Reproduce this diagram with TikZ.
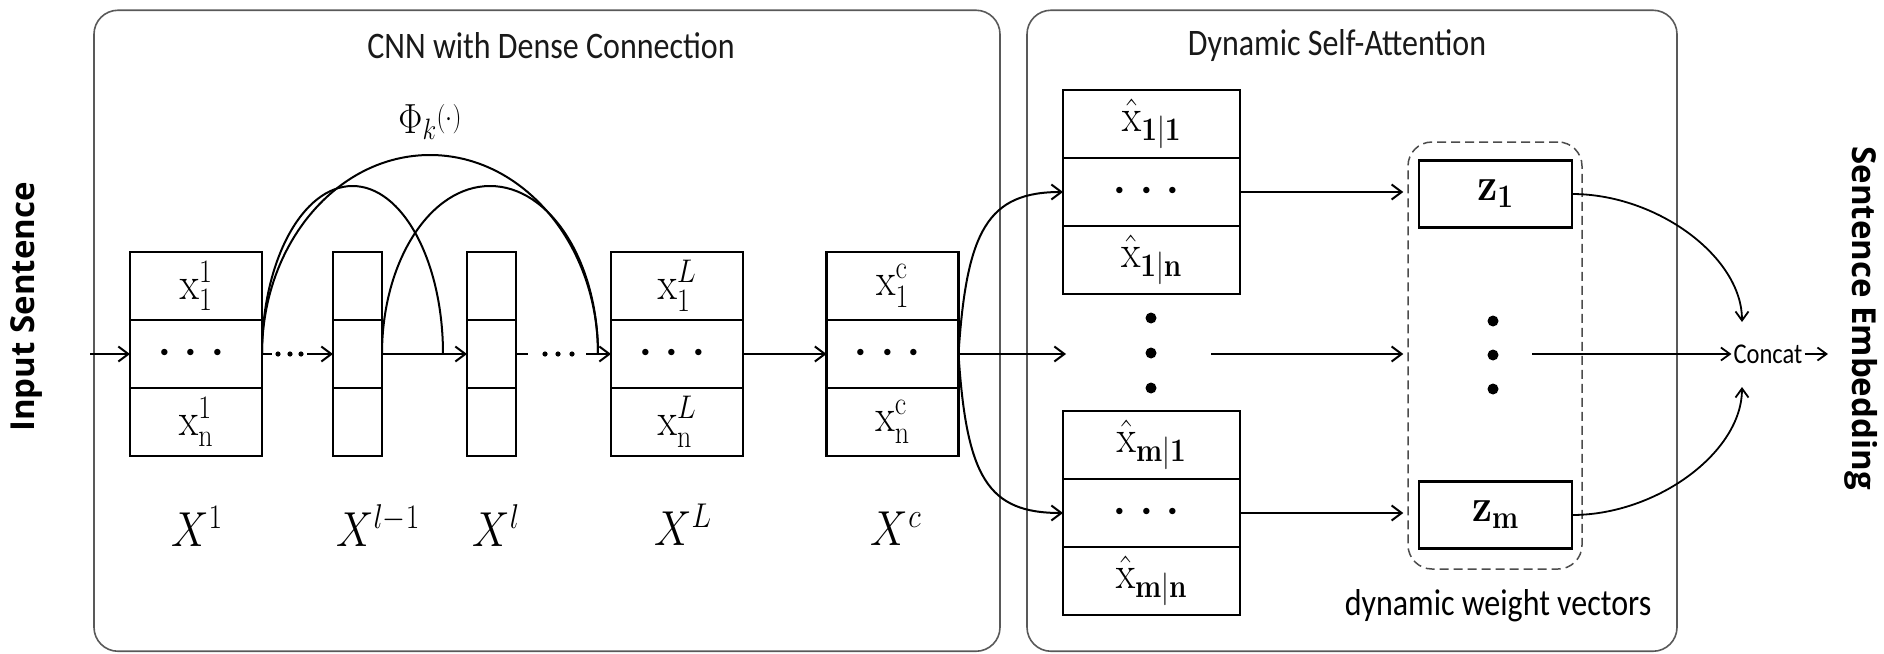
\RequirePackage{fix-cm}
\documentclass[tikz,border=0pt]{standalone}
\usepackage{amsmath}
\usepackage{graphicx}
\usepackage[no-math]{fontspec}
\setmainfont{Carlito}
\newfontfamily\headfont{Open Sans}
\usetikzlibrary{arrows.meta}

\newcommand\cellfont{\fontsize{40}{48}\selectfont}
\newcommand\labfont{\fontsize{42}{50}\selectfont}
\newcommand\vs[1]{\scalebox{1}[1.17]{#1}}
\newcommand\bigdots{{\fontsize{60}{20}\selectfont$\cdots$}}

\tikzset{
  cell/.style={draw, line width=2.4pt, minimum height=68pt, inner sep=0pt, outer sep=0pt, font=\cellfont, fill=white},
  widecell/.style={cell, minimum width=132pt},
  thincell/.style={cell, minimum width=49pt},
  hatcell/.style={cell, minimum width=177pt},
  zcell/.style={cell, minimum width=153pt, minimum height=67pt},
  arr/.style={line width=2pt, -{Straight Barb[length=10pt,width=15pt,line width=2pt]}},
  carr/.style={line width=1.8pt, -{Straight Barb[length=9pt,width=13pt,line width=1.8pt]}},
  arcl/.style={line width=2pt},
  panel/.style={draw=black!65, line width=1.6pt, rounded corners=24pt, inner sep=0pt},
  title/.style={font=\fontsize{32}{38}\selectfont, text=black!90},
  lab/.style={font=\labfont, anchor=base, inner sep=0pt},
  side/.style={font=\headfont\bfseries\fontsize{33}{40}\selectfont},
}

\begin{document}
\begin{tikzpicture}[x=1pt,y=-1pt]
\useasboundingbox (0,0) rectangle (1884,653);

% panels
\node[panel, minimum width=906pt, minimum height=641pt] (lpanel) at (547,330.75) {};
\node[panel, minimum width=650pt, minimum height=641pt] (rpanel) at (1352,330.75) {};
\node[title] (t1) at (551,46) {\vs{CNN with Dense Connection}};
\node[title] (t2) at (1337,46) {\vs{Dynamic Self-Attention}};

% side labels
\node[side, rotate=90] (insent) at (27,307) {Input Sentence};
\node[side, rotate=-90] (sentemb) at (1861,318) {Sentence Embedding};

% arcs (drawn first)
\draw[arcl] (196+66,354) coordinate (arcstart) arc[start angle=180,end angle=0,x radius=90.5pt,y radius=168pt];
\draw[arcl] (arcstart) arc[start angle=180,end angle=0,x radius=168pt,y radius=199pt];
\draw[arcl] (357.5+24.5,354) arc[start angle=180,end angle=0,x radius=108pt,y radius=168pt];

% X^1
\node[widecell] (x1a) at (196,286) {\vs{$\mathrm{x}_1^1$}};
\node[widecell] (x1b) at (196,354) {\bigdots};
\node[widecell] (x1c) at (196,422) {\vs{$\mathrm{x}_\mathrm{n}^1$}};
% X^{l-1}
\node[thincell] (xka) at (357.5,286) {};
\node[thincell] (xkb) at (357.5,354) {};
\node[thincell] (xkc) at (357.5,422) {};
% X^l
\node[thincell] (xla) at (491.5,286) {};
\node[thincell] (xlb) at (491.5,354) {};
\node[thincell] (xlc) at (491.5,422) {};
% X^L
\node[widecell] (xLa) at (677,286) {\vs{$\mathrm{x}_1^L$}};
\node[widecell] (xLb) at (677,354) {\bigdots};
\node[widecell] (xLc) at (677,422) {\vs{$\mathrm{x}_\mathrm{n}^L$}};
% X^c
\node[widecell] (xca) at (892.5,286) {\vs{$\mathrm{x}_1^\mathrm{c}$}};
\node[widecell] (xcb) at (892.5,354) {\bigdots};
\node[widecell] (xcc) at (892.5,422) {\vs{$\mathrm{x}_\mathrm{n}^\mathrm{c}$}};

% labels
\node[lab] (lX1) at (197,546) {\vs{$X^1$}};
\node[lab] (lXk) at (378,546) {\vs{$X^{l-1}$}};
\node[lab] (lXl) at (496,546) {\vs{$X^l$}};
\node[lab] (lXL) at (683,545) {\vs{$X^L$}};
\node[lab] (lXc) at (896,545) {\vs{$X^c$}};
\node[font=\fontsize{36}{40}\selectfont] (phi) at (430,122) {\vs{$\Phi_k\raisebox{0.35ex}{$\scriptstyle(\cdot)$}$}};

% CNN arrows
\coordinate (inp) at (90,354);
\draw[arr] (inp) -- (x1b.west);
\draw[arr, dash pattern=on 10pt off 35pt on 80pt] (x1b.east) -- (xkb.west);
\foreach \xx in {278,290,301} \fill (\xx,354) circle[radius=2.6pt];
\draw[arr] (xkb.east) -- (xlb.west);
\draw[arr, dash pattern=on 12pt off 58pt on 80pt] (xlb.east) -- (xLb.west);
\foreach \xx in {545,558,572} \fill (\xx,354) circle[radius=2.6pt];
\draw[arr] (xLb.east) -- (xcb.west);

% x-hat boxes
\node[hatcell] (xta) at (1151.5,124) {\vs{$\hat{\mathrm{x}}_{\mathbf{1}|\mathbf{1}}$}};
\node[hatcell] (xtb) at (1151.5,192) {\bigdots};
\node[hatcell] (xtc) at (1151.5,260) {\vs{$\hat{\mathrm{x}}_{\mathbf{1}|\mathbf{n}}$}};
\node[hatcell] (xba) at (1151.5,445) {\vs{$\hat{\mathrm{x}}_{\mathbf{m}|\mathbf{1}}$}};
\node[hatcell] (xbb) at (1151.5,513) {\bigdots};
\node[hatcell] (xbc) at (1151.5,581) {\vs{$\hat{\mathrm{x}}_{\mathbf{m}|\mathbf{n}}$}};
\foreach \yy in {318,353,388} \fill (1151,\yy) circle[radius=5.5pt];

\draw[arr] (xcb.east) .. controls +(8,-124) and +(-75,0) .. (xtb.west);
\draw[arr] (xcb.east) .. controls +(8,124) and +(-75,0) .. (xbb.west);
\coordinate (m1) at (1066,354);
\draw[arr] (xcb.east) -- (m1);

% dashed box and z
\node[draw=black!70, line width=1.5pt, dash pattern=on 9pt off 5pt, rounded corners=24pt,
      minimum width=174pt, minimum height=427pt, inner sep=0pt] (dbox) at (1495,355.5) {};
\node[zcell] (z1) at (1495.5,194) {\vs{$\mathbf{z}_\mathbf{1}$}};
\node[zcell] (zm) at (1495.5,515) {\vs{$\mathbf{z}_\mathbf{m}$}};
\foreach \yy in {321,355,389} \fill (1493,\yy) circle[radius=5.5pt];
\node[font=\fontsize{32}{38}\selectfont] (dwv) at (1498,606) {\vs{dynamic weight vectors}};

\draw[arr, shorten >=4pt] (xtb.east) -- (xtb.east -| dbox.west);
\coordinate (m2) at (1211,354);
\draw[arr, shorten >=4pt] (m2) -- (m2 -| dbox.west);
\draw[arr, shorten >=4pt] (xbb.east) -- (xbb.east -| dbox.west);

% concat
\node[font=\fontsize{24.5}{28}\selectfont, inner sep=2pt] (concat) at (1768,354) {\vs{Concat}};
\coordinate (m3) at (1532,354);
\draw[carr] (m3) -- (concat.west);
\coordinate (c1) at (1742,322);
\coordinate (c2) at (1742,387);
\draw[carr] (z1.east) .. controls +(85,0) and +(0,-65) .. (c1);
\draw[carr] (zm.east) .. controls +(85,0) and +(0,65) .. (c2);
\coordinate (outp) at (1828,354);
\draw[carr] (concat.east) -- (outp);
\end{tikzpicture}
\end{document}
